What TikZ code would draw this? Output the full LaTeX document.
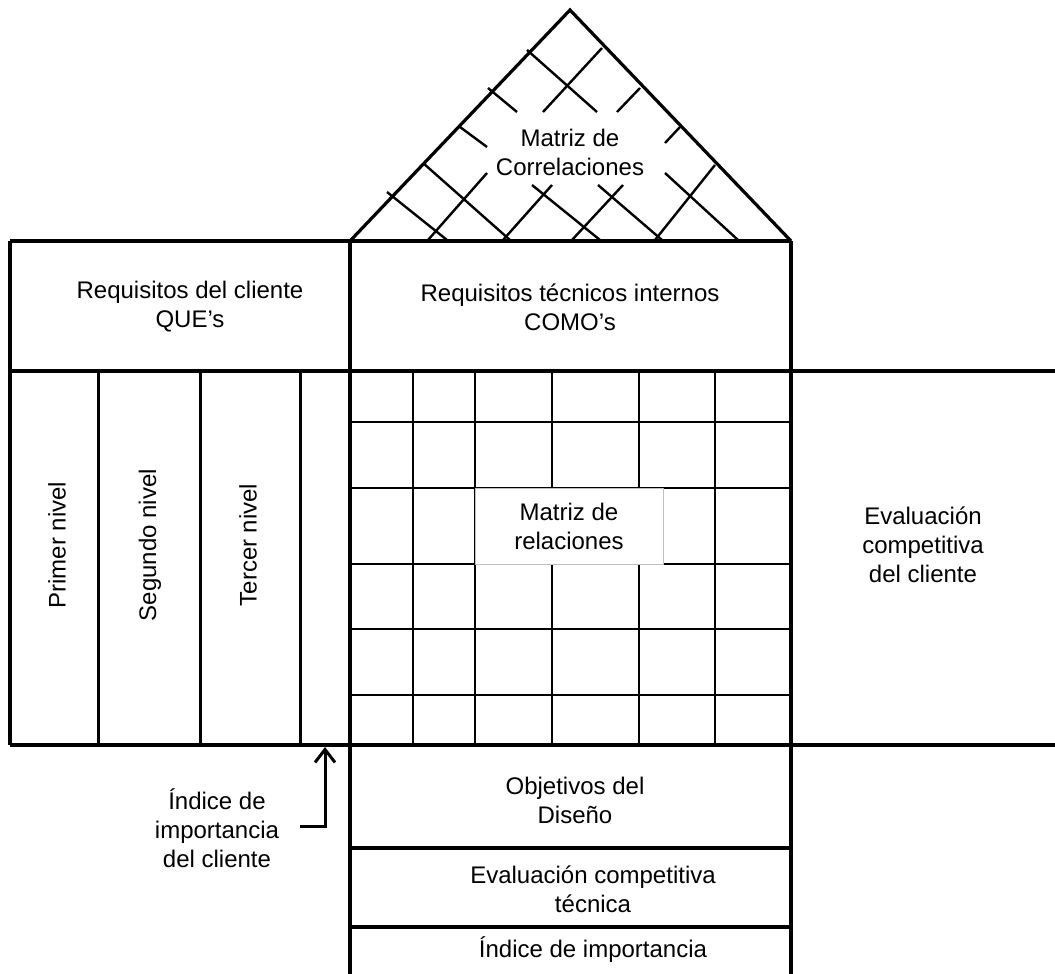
\documentclass[tikz,border=0pt]{standalone}
\usepackage{fontspec}
\setmainfont{Liberation Sans}
\usetikzlibrary{arrows.meta}
\begin{document}
\begin{tikzpicture}[x=1pt,y=-1pt,
  frame/.style={line width=3.2pt},
  colline/.style={line width=3pt},
  gridline/.style={line width=2.4pt},
  lbl/.style={align=center, font=\fontsize{24}{29}\selectfont, inner sep=0pt},
  pointer/.style={line width=3pt, -{Straight Barb[length=13pt,width=20pt]}}
]
\useasboundingbox (0,0) rectangle (1055,974);

% --- roof: correlation lattice (interrupted around the title)
\draw[gridline] (527,50) -- (597,112);
\draw[gridline] (488,88) -- (517,112);
\draw[gridline] (460,127) -- (487,147);
\draw[gridline] (423,163) -- (510,240);
\draw[gridline] (387,192) -- (447,240);
\draw[gridline] (532,185) -- (600,240);
\draw[gridline] (598,185) -- (662,240);
\draw[gridline] (665,173) -- (738,240);
\draw[gridline] (487,173) -- (428,240);
\draw[gridline] (552,185) -- (503,240);
\draw[gridline] (602,48) -- (543,112);
\draw[gridline] (640,88) -- (617,112);
\draw[gridline] (680,127) -- (665,143);
\draw[gridline] (715,165) -- (655,240);
\draw[gridline] (623,185) -- (572,240);
\draw[frame, line join=miter] (350,241) -- (570,10) -- (791,241);

% --- relationship matrix grid
\foreach \gx in {413,475,552,639,715} \draw[gridline] (\gx,371) -- (\gx,745);
\foreach \gy in {422,488,564,629,695} \draw[gridline] (350,\gy) -- (791,\gy);

% --- customer requirement levels
\foreach \cx in {98,200,300} \draw[colline] (\cx,371) -- (\cx,745);

% --- house frame
\draw[frame] (10,241) -- (791,241);
\draw[frame] (10,371) -- (1055,371);
\draw[frame] (10,745) -- (1055,745);
\draw[frame] (10,241) -- (10,745);
\draw[frame] (350,241) -- (350,974);
\draw[frame] (791,241) -- (791,974);
\draw[frame] (350,848) -- (791,848);
\draw[frame] (350,927) -- (791,927);

% --- labels
\node[lbl] (corr) at (570,152) {Matriz de\\Correlaciones};
\node[lbl] (que) at (190,307) {Requisitos del cliente\\QUE’s};
\node[lbl] (como) at (570,307) {Requisitos técnicos internos\\COMO’s};
\node[lbl, fill=white, draw=black!25, line width=1pt,
      minimum width=188pt, minimum height=76pt] (rel) at (569,526) {Matriz de\\relaciones};
\node[lbl] (evcli) at (923,545) {Evaluación\\competitiva\\del cliente};
\node[lbl, rotate=90] (n1) at (57,545) {Primer nivel};
\node[lbl, rotate=90] (n2) at (150,545) {Segundo nivel};
\node[lbl, rotate=90] (n3) at (248,545) {Tercer nivel};
\node[lbl] (obj) at (575,800) {Objetivos del\\Diseño};
\node[lbl] (evtec) at (593,889) {Evaluación competitiva\\técnica};
\node[lbl] (imp) at (593,950) {Índice de importancia};
\node[lbl] (impcli) at (217,828) {Índice de\\importancia\\del cliente};

% --- pointer to the importance column
\coordinate (pstart) at (300,826);
\coordinate (pend) at (325,747);
\draw[pointer] (pstart) -| (pend);
\end{tikzpicture}
\end{document}
